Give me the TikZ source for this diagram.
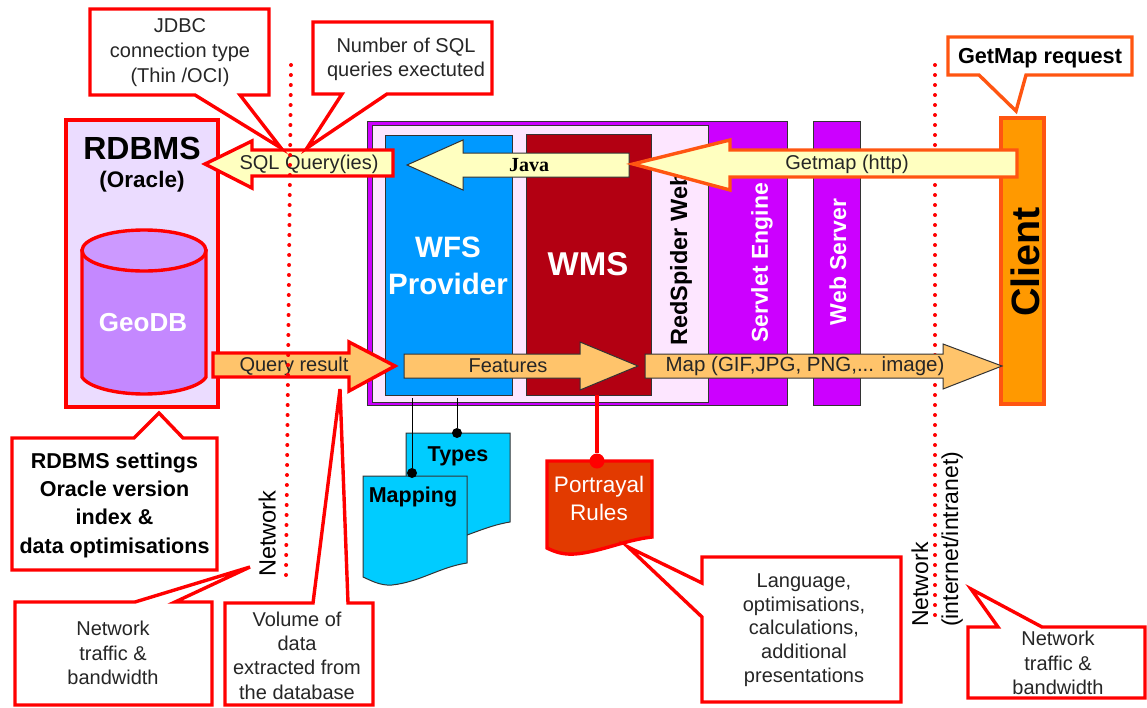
\documentclass[tikz,border=0pt]{standalone}
\usepackage{fontspec}
\setmainfont{Liberation Sans}
\newfontfamily\serifb{Liberation Serif}
\definecolor{rd}{HTML}{FF0000}
\definecolor{orr}{HTML}{FF5511}
\definecolor{lav}{HTML}{EBDCFF}
\definecolor{cyl}{HTML}{C488FF}
\definecolor{cyltop}{HTML}{CC99FF}
\definecolor{pur}{HTML}{CC00FF}
\definecolor{pnk}{HTML}{FDE6FF}
\definecolor{blu}{HTML}{0099FF}
\definecolor{wmsred}{HTML}{B30012}
\definecolor{yel}{HTML}{FFFFC0}
\definecolor{ora}{HTML}{FFC46B}
\definecolor{cyan}{HTML}{00CCFF}
\definecolor{port}{HTML}{E23A00}
\definecolor{clnt}{HTML}{FF9900}
\definecolor{gry}{HTML}{333333}
\tikzset{
  call/.style={draw=rd,line width=3.4pt,fill=white,line join=miter,miter limit=10},
  callor/.style={call,draw=orr},
  arr/.style={draw=rd,line width=3.4pt,miter limit=10},
  thinbox/.style={draw=gry,line width=1pt},
  lbl/.style={inner sep=0pt,align=center,font=\fontsize{20}{24.3}\selectfont,text=black!85},
  blbl/.style={inner sep=0pt,align=center,font=\fontsize{21.5}{28.3}\selectfont\bfseries},
  rotw/.style={inner sep=0pt,rotate=90,font=\fontsize{23}{26}\selectfont\bfseries,text=white},
  rotk/.style={inner sep=0pt,rotate=90,font=\fontsize{23.5}{26}\selectfont\bfseries},
  net/.style={inner sep=0pt,rotate=90,align=left,font=\fontsize{23}{30}\selectfont},
  dots/.style={draw=rd,line width=4pt,line cap=round,dash pattern=on 0pt off 10pt},
  blackdot/.style={circle,fill=black,inner sep=0pt,minimum size=10pt},
  reddot/.style={circle,fill=rd,inner sep=0pt,minimum size=15pt},
}
\begin{document}
\begin{tikzpicture}[x=1pt,y=-1pt]
\useasboundingbox (0,0) rectangle (1147,707);
\fill[white] (0,0) rectangle (1147,707);

% web server stack
\draw[thinbox,fill=pur] (367,121) rectangle (787,405);
\draw[thinbox,fill=pnk] (372,125) rectangle (708,402);
\draw[thinbox,fill=pur] (813,121) rectangle (860,405);
\node[draw=gry,line width=1pt,fill=blu,minimum width=127pt,minimum height=260pt,inner sep=0pt] (wfs) at (448.5,265) {};
\node[draw=gry,line width=1pt,fill=wmsred,minimum width=125pt,minimum height=261pt,inner sep=0pt] (wms) at (588.5,264.5) {};
\node[inner sep=0pt,align=center,text=white,font=\fontsize{29.5}{37}\selectfont\bfseries] at (448,266) {WFS\\Provider};
\node[inner sep=0pt,text=white,font=\fontsize{33}{38}\selectfont\bfseries] at (588,264) {WMS};
\node[rotk] (rsw) at (681,259) {RedSpider Web};
\node[rotw] (srv) at (762,263) {Servlet Engine};
\node[rotw] (wsv) at (838,262) {Web Server};

% client
\node[draw=orr,line width=4pt,fill=clnt,minimum width=43pt,minimum height=286pt,inner sep=0pt] (client) at (1022.5,261) {};
\node[inner sep=0pt,rotate=90,font=\fontsize{39.5}{44}\selectfont\bfseries] at (1025,262) {Client};

% right network dotted line (under the Getmap arrow)
\coordinate (n2a) at (935,65);
\coordinate (n2b) at (935,616);
\draw[dots] (n2a) -- (n2b);

% RDBMS box
\node[draw=rd,line width=4pt,fill=lav,minimum width=152pt,minimum height=287pt,inner sep=0pt] (rdbms) at (142,263.5) {};
\node[inner sep=0pt,font=\fontsize{32}{36}\selectfont\bfseries] at (142,148) {RDBMS};
\node[inner sep=0pt,font=\fontsize{22.5}{26}\selectfont\bfseries] at (142,182) {(Oracle)};

% cylinder
\draw[draw=rd,line width=3.4pt,fill=cyl] (82,250.5) -- (82,377) .. controls (88,387) and (115,394) .. (144,394) .. controls (173,394) and (200,387) .. (206,377) -- (206,250.5) -- cycle;
\draw[draw=rd,line width=3.4pt,fill=cyltop] (144,250.5) ellipse [x radius=62,y radius=20.5];
\node[inner sep=0pt,text=white,font=\fontsize{26}{30}\selectfont\bfseries] (geo) at (143,323) {GeoDB};

% block arrows
\draw[arr,fill=yel] (393,150) -- (252,150) -- (252,141) -- (205,164) -- (252,188) -- (252,176) -- (393,176) -- cycle;
\node[lbl] (sql) at (309,164) {SQL Query(ies)};
\draw[thinbox,fill=yel] (629,153) -- (463,153) -- (463,140) -- (407,165) -- (463,190) -- (463,177) -- (629,177) -- cycle;
\node[inner sep=0pt,font=\fontsize{20}{24}\selectfont\bfseries\serifb] (java) at (529,165) {Java};
\draw[draw=orr,line width=3.4pt,miter limit=10,fill=yel] (1017,150) -- (730,150) -- (730,140) -- (633,164) -- (730,190) -- (730,177) -- (1017,177) -- cycle;
\node[lbl] (getm) at (847,164) {Getmap (http)};
\draw[arr,fill=ora] (213,353) -- (349,353) -- (349,342) -- (395,366) -- (349,391) -- (349,377) -- (213,377) -- cycle;
\node[lbl] (qres) at (294,366) {Query result};
\draw[thinbox,fill=ora] (645,354) -- (943,354) -- (943,344) -- (1002,366) -- (943,389) -- (943,378) -- (645,378) -- cycle;
\node[inner sep=0pt,font=\fontsize{20.5}{24}\selectfont,text=black!85] (map) at (805,366) {Map (GIF,JPG, PNG,... image)};
\draw[thinbox,fill=ora] (404,354) -- (580,354) -- (580,342) -- (638,366) -- (580,390) -- (580,378) -- (404,378) -- cycle;
\node[lbl] (feat) at (508,366) {Features};

% left network dotted line
\coordinate (n1a) at (291,65);
\coordinate (n1b) at (286,576);
\draw[dots] (n1a) -- (n1b);

% documents
\draw[thinbox,fill=cyan] (406,433) -- (510,433) -- (510,522) .. controls (485,526) and (465,538) .. (440,543) .. controls (425,545) and (415,542) .. (406,534) -- cycle;
\node[inner sep=0pt,font=\fontsize{21.5}{26}\selectfont\bfseries] (types) at (458,456) {Types};
\draw[thinbox,fill=cyan] (363,476) -- (467,476) -- (467,563) .. controls (440,567) and (420,582) .. (392,585) .. controls (380,586) and (370,580) .. (363,577) -- cycle;
\node[inner sep=0pt,font=\fontsize{21.5}{26}\selectfont\bfseries] (mapping) at (413,497) {Mapping};
\coordinate (mapt) at (412,398);
\coordinate (typt) at (457,398);
\node[blackdot] (mapd) at (412,473) {};
\node[blackdot] (typd) at (457,433) {};
\draw[black,line width=1pt] (mapt) -- (mapd);
\draw[black,line width=1pt] (typt) -- (typd);

% portrayal rules
\draw[draw=rd,line width=3.4pt,fill=port] (547,461) -- (652,461) -- (652,537) .. controls (625,540) and (600,552) .. (575,554) .. controls (562,555) and (553,551) .. (547,548) -- cycle;
\node[inner sep=0pt,align=center,text=white,font=\fontsize{22.5}{28}\selectfont] (port) at (599,498) {Portrayal\\Rules};
\coordinate (wmsb) at (597,395);
\node[reddot] (pd) at (597,461) {};
\draw[rd,line width=4pt] (wmsb) -- (pd);

% callouts
\draw[call] (90,9) -- (269,9) -- (269,95) -- (240,95) -- (281,148) -- (195,95) -- (90,95) -- cycle;
\node[lbl,font=\fontsize{20}{25}\selectfont] (jdbc) at (180,53) {JDBC\\connection type\\(Thin /OCI)};
\draw[call] (313,22) -- (492,22) -- (492,94) -- (387,94) -- (307,148) -- (342,94) -- (313,94) -- cycle;
\node[lbl] (num) at (406,59) {Number of SQL\\queries exectuted};
\draw[callor] (948,37) -- (1132,37) -- (1132,75) -- (1026,75) -- (1016,111) -- (979,75) -- (948,75) -- cycle;
\node[inner sep=0pt,font=\fontsize{21.7}{26}\selectfont\bfseries] (gm) at (1040,58) {GetMap request};
\draw[call] (12,438) -- (134,438) -- (159,413) -- (183,438) -- (217,438) -- (217,570) -- (12,570) -- cycle;
\node[blbl] (sett) at (114.5,505) {RDBMS settings\\Oracle version\\index \&\\data optimisations};
\draw[call] (15,602) -- (135,602) -- (250,567) -- (175,602) -- (212,602) -- (212,705) -- (15,705) -- cycle;
\node[lbl] (nt1) at (113,653) {Network\\traffic \&\\bandwidth};
\draw[call] (225,603) -- (313,603) -- (340,389) -- (348,603) -- (373,603) -- (373,705) -- (225,705) -- cycle;
\node[lbl] (vol) at (297,655.5) {Volume of\\data\\extracted from\\the database};
\draw[call] (702,557) -- (901,557) -- (901,702) -- (702,702) -- (702,617) -- (628,547) -- (702,583) -- cycle;
\node[lbl,font=\fontsize{20}{23.7}\selectfont] (lang) at (804,630) {Language,\\optimisations,\\calculations,\\additional\\presentations};
\draw[call] (968,627) -- (998,627) -- (971,589) -- (1042,627) -- (1145,627) -- (1145,698) -- (968,698) -- cycle;
\node[lbl] (nt2) at (1058,663) {Network\\traffic \&\\bandwidth};

% network labels
\node[net,anchor=south west,font=\fontsize{23.5}{30}\selectfont] (net1) at (276,577) {Network};
\node[net,anchor=south west] (net2) at (963,627) {Network\\(internet/intranet)};
\end{tikzpicture}
\end{document}
